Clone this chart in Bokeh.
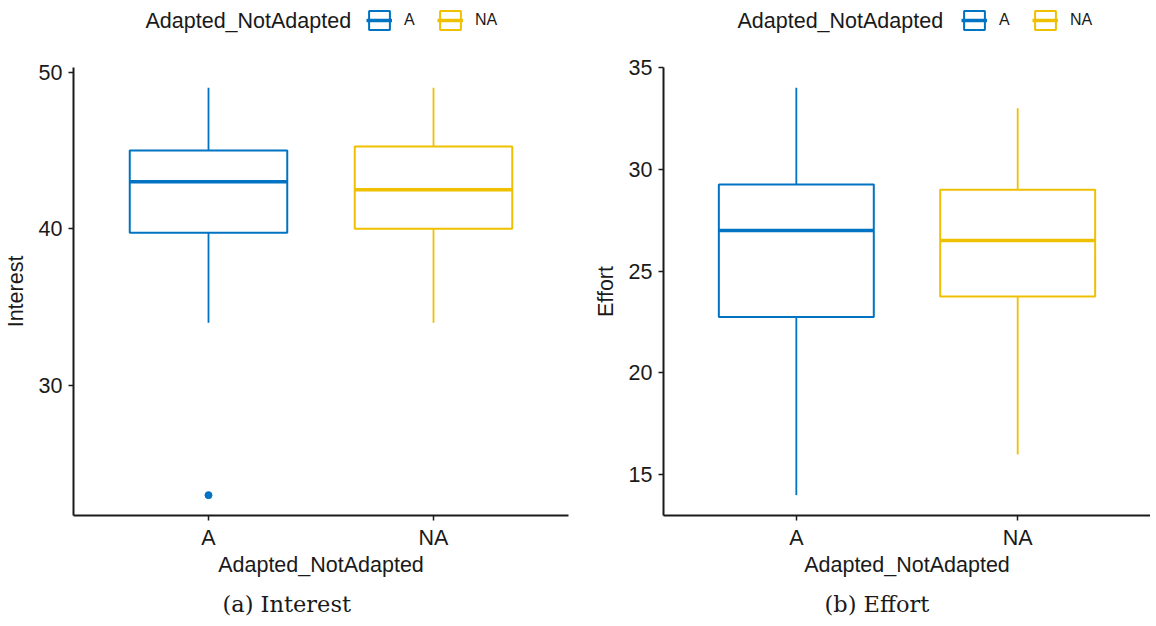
from bokeh.plotting import figure
from bokeh.models import (FactorRange, Range1d, Legend, LegendItem, Title,
                          FixedTicker, ColumnDataSource, Label)
from bokeh.transform import dodge
from bokeh.layouts import row, column
from bokeh.embed import file_html
from bokeh.resources import INLINE

# ---------------- data ----------------
groups = ["A", "NA"]
colors = ["#0073C2", "#EFC000"]
legend_title = "Adapted_NotAdapted"
x_title = "Adapted_NotAdapted"

interest_low = [34, 34]
interest_q1 = [39.75, 40]
interest_med = [43, 42.5]
interest_q3 = [45, 45.25]
interest_high = [49, 49]
interest_out_group = ["A"]
interest_out_val = [23]
interest_ticks = [30, 40, 50]

effort_low = [14, 16]
effort_q1 = [22.75, 23.75]
effort_med = [27, 26.5]
effort_q3 = [29.25, 29]
effort_high = [34, 33]
effort_out_group = []
effort_out_val = []
effort_ticks = [15, 20, 25, 30, 35]

SANS = "Liberation Sans"
INK = "#1a1a1a"
LEG_H = 50          # height of the legend strip
H = 626 - LEG_H     # height of the box-plot figures
TOP = 17
FRAME_H = 448
BOX_LW, MED_LW, WHISK_LW = 2, 3.5, 1.8


def make_legend(p, src, width, title_x, items_x):
    lf = figure(width=width, height=LEG_H, x_range=p.x_range,
                y_range=p.y_range, output_backend="svg",
                toolbar_location=None, x_axis_location=None,
                y_axis_location=None, min_border=0)
    lf.outline_line_color = None
    lf.grid.visible = False
    # hidden copies of the box and median glyphs, used only for legend icons
    rb = lf.vbar(x="g", width=0.7, bottom="q1", top="q3", fill_color="white",
                 line_color="c", line_width=BOX_LW, source=src, visible=False)
    rm = lf.segment(x0=dodge("g", -0.35, range=p.x_range), y0="med",
                    x1=dodge("g", 0.35, range=p.x_range), y1="med",
                    line_color="c", line_width=MED_LW, source=src,
                    visible=False)
    items = [LegendItem(label=g, renderers=[rb, rm], index=i)
             for i, g in enumerate(groups)]
    leg = Legend(items=items, orientation="horizontal",
                 location=(items_x, 18), border_line_color=None,
                 background_fill_alpha=0, padding=0, margin=0, spacing=13,
                 label_standoff=12, glyph_width=26, glyph_height=24,
                 label_text_font=SANS, label_text_font_size="16px",
                 label_text_color=INK, click_policy="none")
    lf.add_layout(leg)
    lf.add_layout(Label(x=title_x, y=30, x_units="screen", y_units="screen",
                        text=legend_title, text_baseline="middle",
                        text_align="left", text_font=SANS,
                        text_font_size="21.5px", text_color=INK))
    return lf


def make_panel(ylabel, low, q1, med, q3, high, out_g, out_v, ticks, caption,
               width, min_left, min_right, cap_offset):
    allv = list(low) + list(high) + list(out_v)
    lo, hi = min(allv), max(allv)
    pad = 0.05 * (hi - lo)
    p = figure(width=width, height=H,
               x_range=FactorRange(factors=groups, range_padding=0.1,
                                   range_padding_units="absolute"),
               y_range=Range1d(lo - pad, hi + pad),
               output_backend="svg", toolbar_location=None,
               min_border_left=min_left, min_border_right=min_right,
               min_border_top=TOP, min_border_bottom=H - TOP - FRAME_H)
    p.outline_line_color = None
    p.xgrid.visible = False
    p.ygrid.visible = False
    p.background_fill_color = "white"

    src = ColumnDataSource(dict(g=groups, c=colors, low=low, q1=q1, med=med,
                                q3=q3, high=high))
    p.segment(x0="g", y0="low", x1="g", y1="q1", line_color="c",
              line_width=WHISK_LW, source=src)
    p.segment(x0="g", y0="q3", x1="g", y1="high", line_color="c",
              line_width=WHISK_LW, source=src)
    p.vbar(x="g", width=0.7, bottom="q1", top="q3", fill_color="white",
           line_color="c", line_width=BOX_LW, source=src)
    p.segment(x0=dodge("g", -0.35, range=p.x_range), y0="med",
              x1=dodge("g", 0.35, range=p.x_range), y1="med",
              line_color="c", line_width=MED_LW, source=src)
    if out_v:
        out_c = [colors[groups.index(g)] for g in out_g]
        p.scatter(x=out_g, y=out_v, size=7, color=out_c)

    p.xaxis.axis_label = x_title
    p.yaxis.axis_label = ylabel
    for ax in (p.xaxis[0], p.yaxis[0]):
        ax.axis_line_color = INK
        ax.axis_line_width = 2
        ax.major_tick_line_color = INK
        ax.major_tick_line_width = 1.5
        ax.major_tick_in = 0
        ax.major_tick_out = 5
        ax.minor_tick_line_color = None
        ax.major_label_text_font = SANS
        ax.major_label_text_font_size = "21.5px"
        ax.major_label_text_color = INK
        ax.axis_label_text_font = SANS
        ax.axis_label_text_font_size = "21.5px"
        ax.axis_label_text_font_style = "normal"
        ax.axis_label_text_color = INK
    p.yaxis.ticker = FixedTicker(ticks=ticks)
    p.yaxis.major_label_standoff = 6
    p.xaxis.major_label_standoff = 5
    p.xaxis.axis_label_standoff = 0
    p.yaxis.axis_label_standoff = 8

    p.add_layout(Title(text=caption, align="left", offset=cap_offset,
                       text_font="DejaVu Serif", text_font_size="22.5px",
                       text_font_style="normal", text_color=INK,
                       standoff=18), "below")
    return p, src


p1, s1 = make_panel("Interest", interest_low, interest_q1, interest_med,
                    interest_q3, interest_high, interest_out_group,
                    interest_out_val, interest_ticks, "(a) Interest",
                    590, 71, 22, 149)
p2, s2 = make_panel("Effort", effort_low, effort_q1, effort_med, effort_q3,
                    effort_high, effort_out_group, effort_out_val,
                    effort_ticks, "(b) Effort", 560, 71, 0, 161)
l1 = make_legend(p1, s1, 590, 145, 366)
l2 = make_legend(p2, s2, 560, 147, 371)

layout = column(row(l1, l2), row(p1, p2))
open("out.html", "w").write(file_html(layout, INLINE))
